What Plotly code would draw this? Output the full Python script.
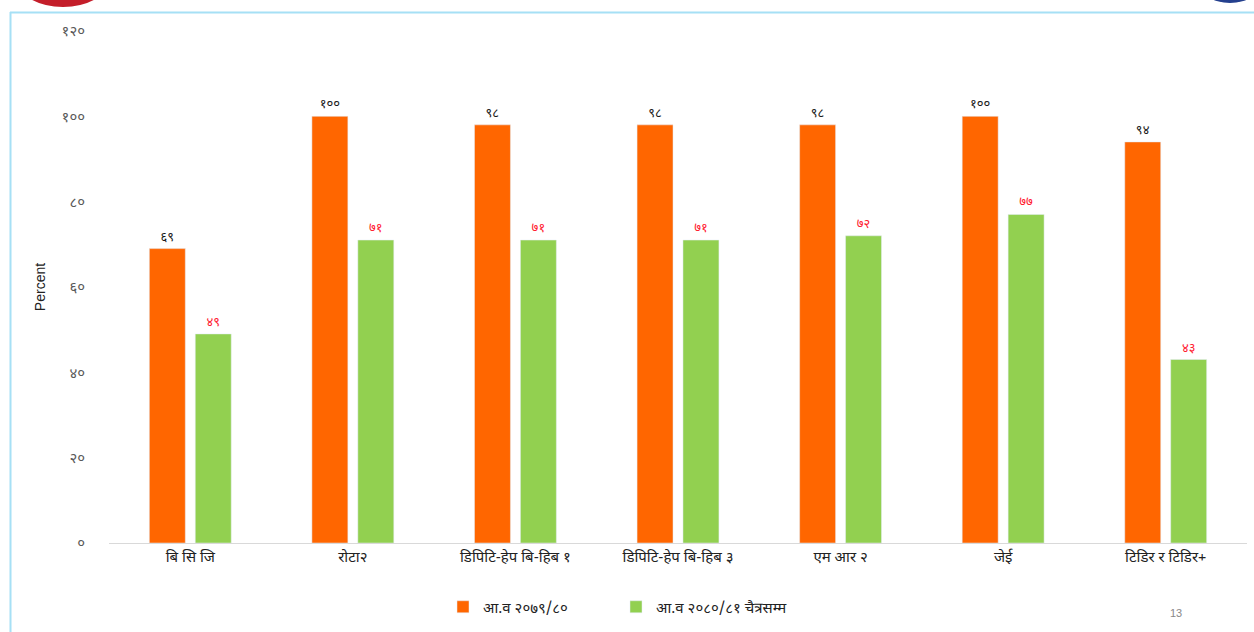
import plotly.graph_objects as go

categories = ["बि सि जि", "रोटा२", "डिपिटि-हेप बि-हिब १", "डिपिटि-हेप बि-हिब ३", "एम आर २", "जेई", "टिडिर र टिडिर+"]
series1_name = "आ.व २०७९/८०"
series2_name = "आ.व २०८०/८१ चैत्रसम्म"
series1 = [69, 100, 98, 98, 98, 100, 94]
series2 = [49, 71, 71, 71, 72, 77, 43]
ytick_vals = [0, 20, 40, 60, 80, 100, 120]
ytick_text = ["०", "२०", "४०", "६०", "८०", "१००", "१२०"]

DEV = str.maketrans("0123456789", "०१२३४५६७८९")
def dev(v):
    return str(v).translate(DEV)

FONT = "Noto Sans Devanagari, Mangal, Lohit Devanagari, FreeSans, Noto Sans, sans-serif"

W, H = 1254, 632
L, R, T, B = 109, 7, 31, 89
PW, PH = W - L - R, H - T - B

def px(x):
    return (x - L) / PW

def py(y):
    return (H - B - y) / PH

fig = go.Figure()
fig.add_trace(go.Bar(
    x=categories, y=series1, name=series1_name,
    marker=dict(color="#FF6600"),
    text=[dev(v) for v in series1], textposition="outside",
    textfont=dict(color="#1A1A1A", size=13, family=FONT),
    cliponaxis=False,
))
fig.add_trace(go.Bar(
    x=categories, y=series2, name=series2_name,
    marker=dict(color="#92D050"),
    text=[dev(v) for v in series2], textposition="outside",
    textfont=dict(color="#FF2030", size=13, family=FONT),
    cliponaxis=False,
))

shapes = [
    # slide frame
    dict(type="line", xref="paper", yref="paper", x0=px(10), x1=px(1300), y0=py(12.5), y1=py(12.5),
         line=dict(color="#A6E0F5", width=2)),
    dict(type="line", xref="paper", yref="paper", x0=px(10.5), x1=px(10.5), y0=py(12), y1=py(700),
         line=dict(color="#A6E0F5", width=2)),
    # partial logos at top
    dict(type="circle", xref="paper", yref="paper", x0=px(18), x1=px(108), y0=py(7), y1=py(-45),
         fillcolor="#C41E2A", line=dict(color="#C41E2A", width=0)),
    dict(type="circle", xref="paper", yref="paper", x0=px(1198), x1=px(1262), y0=py(3), y1=py(-40),
         fillcolor="#24408E", line=dict(color="#24408E", width=0)),
]

fig.update_layout(
    width=W, height=H,
    margin=dict(l=L, r=R, t=T, b=B),
    paper_bgcolor="white", plot_bgcolor="white",
    barmode="group", bargap=0.435, bargroupgap=0.217,
    font=dict(family=FONT, color="#333333"),
    showlegend=True,
    legend=dict(orientation="h", x=px(443), xanchor="left", y=py(607), yanchor="middle",
                font=dict(size=15, color="#222222", family=FONT), itemwidth=30,
                entrywidth=128, traceorder="normal"),
    shapes=shapes,
    annotations=[
        dict(text="13", xref="paper", yref="paper", x=px(1176), y=py(613), showarrow=False,
             xanchor="center", yanchor="middle",
             font=dict(size=11, color="#888888", family="Liberation Sans, Arial, sans-serif")),
    ],
)
fig.update_xaxes(
    showline=True, linecolor="#D9D9D9", linewidth=1,
    showgrid=False, ticks="",
    tickfont=dict(size=15, color="#222222", family=FONT),
)
fig.update_yaxes(
    range=[0, 120], tickvals=ytick_vals, ticktext=ytick_text,
    showgrid=False, zeroline=False, showline=False,
    ticks="outside", ticklen=20, tickcolor="rgba(0,0,0,0)",
    tickfont=dict(size=15, color="#595959", family=FONT),
    title=dict(text="Percent", font=dict(size=14, color="#222222", family="Liberation Sans, Arial, sans-serif"),
               standoff=12),
)

fig.write_html("out.html", config={"displayModeBar": False},
               post_script="document.body.style.margin='0';document.body.style.overflow='hidden';")
